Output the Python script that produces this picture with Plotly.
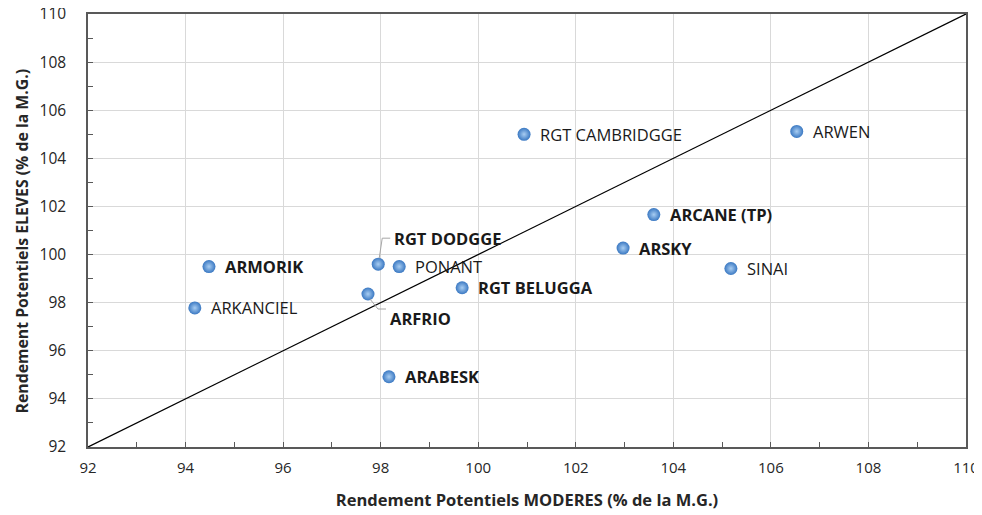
import plotly.graph_objects as go

names = ["ARKANCIEL", "ARMORIK", "ARFRIO", "RGT DODGGE", "PONANT", "RGT BELUGGA",
         "ARABESK", "RGT CAMBRIDGGE", "ARWEN", "ARCANE (TP)", "ARSKY", "SINAI"]
moderes = [94.19, 94.48, 97.74, 97.95, 98.38, 99.67, 98.17, 100.94, 106.53, 103.60, 102.97, 105.18]
eleves = [97.78, 99.50, 98.36, 99.60, 99.50, 98.62, 94.92, 105.00, 105.12, 101.66, 100.27, 99.42]
bold = [False, True, True, True, False, True, True, False, False, True, True, False]
diag = [92, 110]

FONT = "Open Sans, Liberation Sans, sans-serif"

fig = go.Figure()
fig.add_trace(go.Scatter(x=diag, y=diag, mode="lines",
                         line=dict(color="black", width=1.3), hoverinfo="skip", showlegend=False))
fig.add_trace(go.Scatter(x=moderes, y=eleves, mode="markers", showlegend=False,
                         marker=dict(size=13, color="#3A78C2",
                                     gradient=dict(type="radial", color="#A8CDF2"),
                                     line=dict(width=0))))

for n, xv, yv, b in zip(names, moderes, eleves, bold):
    txt = f"<b>{n}</b>" if b else n
    xs, ys = 14, 0
    if n == "RGT DODGGE":
        xs, ys = 14, 26
    elif n == "ARFRIO":
        xs, ys = 20, -24
    fig.add_annotation(x=xv, y=yv, text=txt, showarrow=False, xanchor="left", yanchor="middle",
                       xshift=xs, yshift=ys, font=dict(family=FONT, size=16.5, color="#1a1a1a"))

dx = moderes[names.index("RGT DODGGE")]; dy = eleves[names.index("RGT DODGGE")]
fig.add_shape(type="path", xref="x", yref="y", xsizemode="pixel", ysizemode="pixel",
              xanchor=dx, yanchor=dy, path="M 1,6 L 4,26 L 12,26",
              line=dict(color="#A6A6A6", width=1))
fx = moderes[names.index("ARFRIO")]; fy = eleves[names.index("ARFRIO")]
fig.add_shape(type="path", xref="x", yref="y", xsizemode="pixel", ysizemode="pixel",
              xanchor=fx, yanchor=fy, path="M 2,-5 L 10,-15 L 18,-15",
              line=dict(color="#A6A6A6", width=1))

# y-axis title as annotation (sits slightly below the plot centre in the reference)
fig.add_annotation(xref="paper", yref="paper", x=0, y=0.5, xshift=-67, yshift=-11,
                   text="<b>Rendement Potentiels ELEVES (% de la M.G.)</b>", textangle=-90,
                   showarrow=False, xanchor="center", yanchor="middle",
                   font=dict(family=FONT, size=15.8, color="#262626"))

axis_common = dict(range=[92, 110], dtick=2, tick0=92, showgrid=True, gridcolor="#D9D9D9",
                   gridwidth=1, showline=True, linecolor="#595959", linewidth=1.5, mirror=True,
                   ticks="inside", ticklen=5, tickcolor="#595959", zeroline=False, automargin=False,
                   ticklabeloverflow="allow",
                   minor=dict(dtick=1, ticks="inside", ticklen=5, tickcolor="#595959", showgrid=False))

fig.update_xaxes(**axis_common, ticklabelstandoff=6,
                 tickfont=dict(family=FONT, size=15, color="#262626"),
                 title=dict(text="<b>Rendement Potentiels MODERES (% de la M.G.)</b>",
                            font=dict(family=FONT, size=16.5, color="#262626"), standoff=19))
fig.update_yaxes(**axis_common, ticklabelstandoff=17,
                 tickfont=dict(family=FONT, size=15.5, color="#262626"))

# page body has an 8px default margin: size the figure so it fits the window exactly
fig.update_layout(width=974, height=507, margin=dict(l=80, r=16, t=6, b=68),
                  plot_bgcolor="white", paper_bgcolor="white")

fig.write_html("out.html")
